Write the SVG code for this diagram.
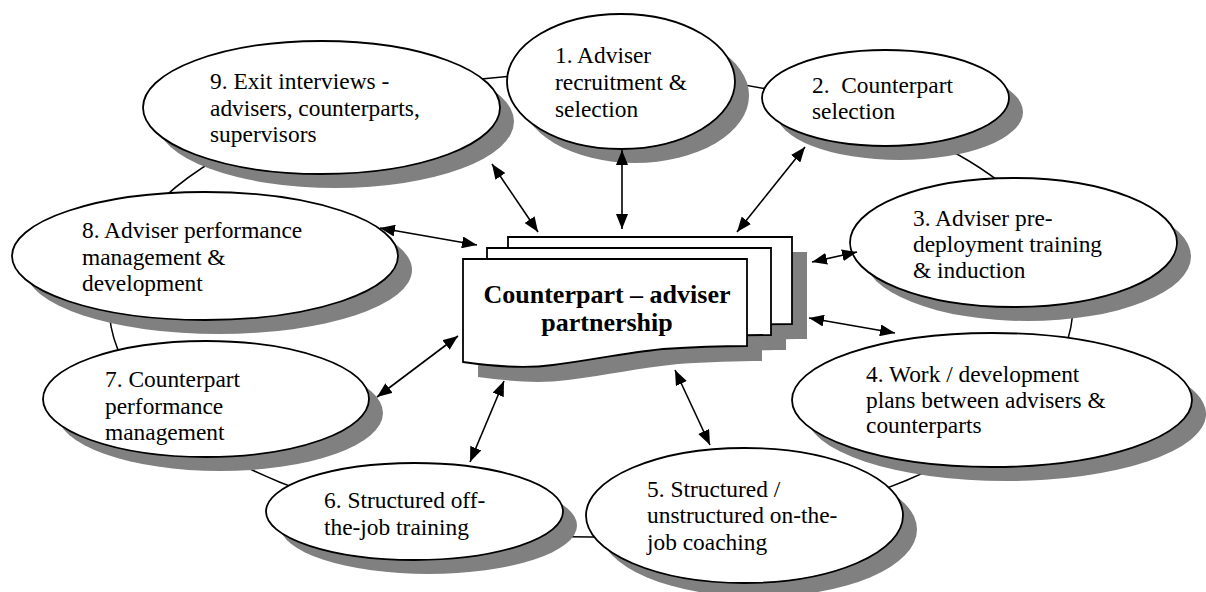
<svg xmlns="http://www.w3.org/2000/svg" width="1206" height="592" viewBox="0 0 1206 592">
  <style>
    .ring { fill: none; stroke: #000; stroke-width: 1.5; }
    .shadow { fill: #808080; stroke: none; }
    .node { fill: #fff; stroke: #000; stroke-width: 1.8; }
    .label { font-family: "Liberation Serif", "Times New Roman", serif; font-size: 23.4px; fill: #000; }
    .title { font-family: "Liberation Serif", "Times New Roman", serif; font-size: 26px; font-weight: bold; fill: #000; text-anchor: middle; }
    .link { stroke: #000; stroke-width: 1.6; fill: none; marker-start: url(#head); marker-end: url(#head); }
  </style>
  <defs>
    <marker id="head" markerUnits="userSpaceOnUse" markerWidth="15" markerHeight="12" refX="15" refY="6" orient="auto-start-reverse">
      <path d="M0,0 L15,6 L0,12 z" fill="#000"/>
    </marker>
    <!-- one page of the stacked document shape, top-left at 0,0 -->
    <path id="page" d="M0,0 H284 V87 C260,87 230,88 200,90 C160,94 130,101 90,106 C60,110 30,107 0,103 Z"/>
  </defs>

  <rect width="1206" height="592" fill="#fff"/>

  <!-- cycle ring linking the outer steps -->
  <ellipse class="ring" cx="591" cy="305" rx="482" ry="232"/>

  <!-- centre: stacked documents -->
  <g id="partnership">
    <g class="shadow">
      <use href="#page" x="523" y="252"/>
      <use href="#page" x="502" y="263"/>
      <use href="#page" x="478" y="274"/>
    </g>
    <use href="#page" class="node" x="508" y="237"/>
    <use href="#page" class="node" x="487" y="248"/>
    <use href="#page" class="node" x="463" y="259"/>
    <text class="title" x="607" y="303">Counterpart – adviser</text>
    <text class="title" x="607" y="331">partnership</text>
  </g>

  <g id="step1">
    <ellipse class="shadow" cx="635" cy="95.5" rx="114" ry="67.5"/>
    <ellipse class="node" cx="621" cy="81.5" rx="114" ry="67.5"/>
    <text class="label" x="555" y="63">1. Adviser</text>
    <text class="label" x="555" y="90">recruitment &amp;</text>
    <text class="label" x="555" y="117">selection</text>
  </g>

  <g id="step2">
    <ellipse class="shadow" cx="899.5" cy="112" rx="123.5" ry="48"/>
    <ellipse class="node" cx="885.5" cy="98" rx="123.5" ry="48"/>
    <text class="label" x="812" y="93" xml:space="preserve">2.  Counterpart</text>
    <text class="label" x="812" y="119">selection</text>
  </g>

  <g id="step3">
    <ellipse class="shadow" cx="1027.5" cy="256.5" rx="163.5" ry="64.5"/>
    <ellipse class="node" cx="1013.5" cy="242.5" rx="163.5" ry="64.5"/>
    <text class="label" x="913" y="226">3. Adviser pre-</text>
    <text class="label" x="913" y="252">deployment training</text>
    <text class="label" x="913" y="278">&amp; induction</text>
  </g>

  <g id="step4">
    <ellipse class="shadow" cx="1006" cy="414" rx="200" ry="67"/>
    <ellipse class="node" cx="992" cy="400" rx="200" ry="67"/>
    <text class="label" x="866" y="382">4. Work / development</text>
    <text class="label" x="866" y="408">plans between advisers &amp;</text>
    <text class="label" x="866" y="433">counterparts</text>
  </g>

  <g id="step5">
    <ellipse class="shadow" cx="758.5" cy="529.5" rx="158.5" ry="67.5"/>
    <ellipse class="node" cx="744.5" cy="515.5" rx="158.5" ry="67.5"/>
    <text class="label" x="647" y="497">5. Structured /</text>
    <text class="label" x="647" y="523">unstructured on-the-</text>
    <text class="label" x="647" y="550">job coaching</text>
  </g>

  <g id="step6">
    <ellipse class="shadow" cx="428.5" cy="525.5" rx="148.5" ry="48.5"/>
    <ellipse class="node" cx="414.5" cy="511.5" rx="148.5" ry="48.5"/>
    <text class="label" x="324" y="508">6. Structured off-</text>
    <text class="label" x="324" y="535">the-job training</text>
  </g>

  <g id="step7">
    <ellipse class="shadow" cx="220" cy="413" rx="163" ry="58"/>
    <ellipse class="node" cx="206" cy="399" rx="163" ry="58"/>
    <text class="label" x="105" y="387">7. Counterpart</text>
    <text class="label" x="105" y="414">performance</text>
    <text class="label" x="105" y="440">management</text>
  </g>

  <g id="step8">
    <ellipse class="shadow" cx="219" cy="270" rx="193" ry="64"/>
    <ellipse class="node" cx="205" cy="256" rx="193" ry="64"/>
    <text class="label" x="82" y="238">8. Adviser performance</text>
    <text class="label" x="82" y="265">management &amp;</text>
    <text class="label" x="82" y="291">development</text>
  </g>

  <g id="step9">
    <ellipse class="shadow" cx="335.5" cy="121.5" rx="178.5" ry="66.5"/>
    <ellipse class="node" cx="321.5" cy="107.5" rx="178.5" ry="66.5"/>
    <text class="label" x="210" y="89">9. Exit interviews -</text>
    <text class="label" x="210" y="116">advisers, counterparts,</text>
    <text class="label" x="210" y="142">supervisors</text>
  </g>

  <!-- two-way links between each step and the partnership -->
  <g id="connectors">
    <line class="link" x1="622" y1="150" x2="622" y2="229"/>
    <line class="link" x1="805" y1="147" x2="737" y2="232"/>
    <line class="link" x1="812" y1="262" x2="857" y2="252"/>
    <line class="link" x1="809" y1="318" x2="895" y2="333"/>
    <line class="link" x1="675" y1="370" x2="710" y2="445"/>
    <line class="link" x1="504" y1="381" x2="470" y2="462"/>
    <line class="link" x1="458" y1="336" x2="377" y2="397"/>
    <line class="link" x1="380" y1="228" x2="477" y2="245"/>
    <line class="link" x1="492" y1="164" x2="538" y2="232"/>
  </g>
</svg>
